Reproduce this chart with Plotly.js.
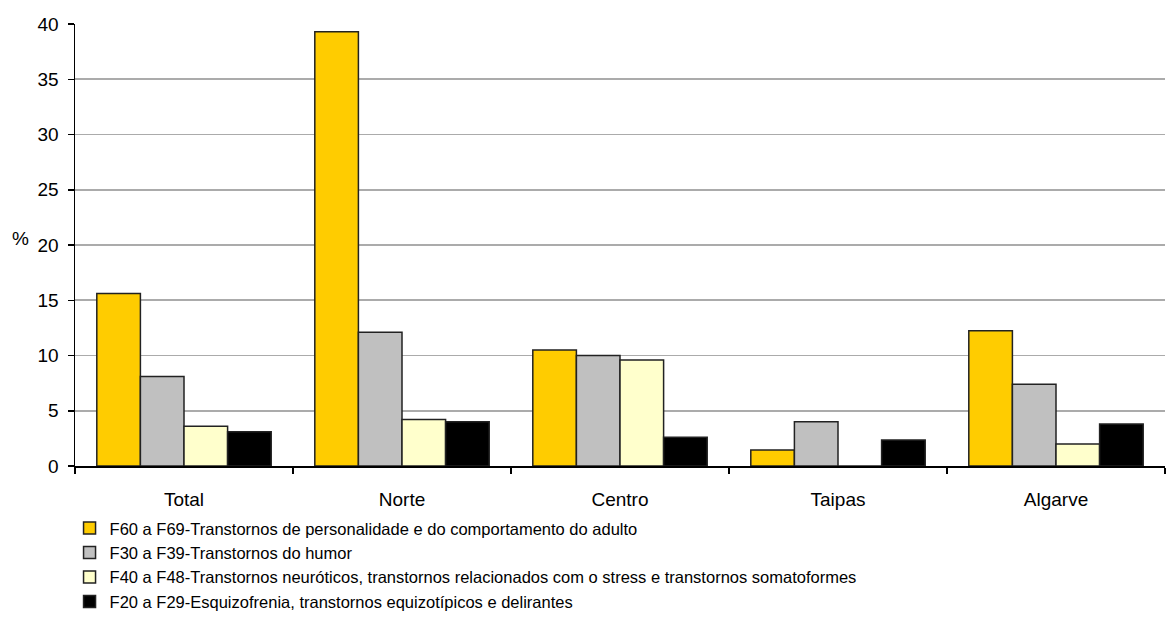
<!DOCTYPE html>
<html><head><meta charset="utf-8">
<script src="https://cdn.plot.ly/plotly-3.0.1.min.js"></script>
<style>html,body{margin:0;padding:0;background:#fff}</style>
</head><body><div id="chart" style="width:1169px;height:617px"></div>
<script>
const categories = ["Total", "Norte", "Centro", "Taipas", "Algarve"];
const seriesNames = [
  "F60 a F69-Transtornos de personalidade e do comportamento do adulto",
  "F30 a F39-Transtornos do humor",
  "F40 a F48-Transtornos neuróticos, transtornos relacionados com o stress e transtornos somatoformes",
  "F20 a F29-Esquizofrenia, transtornos equizotípicos e delirantes"
];
const f60 = [15.6, 39.3, 10.5, 1.45, 12.25];
const f30 = [8.1, 12.1, 10.0, 4.0, 7.4];
const f40 = [3.6, 4.2, 9.6, 0, 2.0];
const f20 = [3.1, 4.0, 2.6, 2.35, 3.8];
const yTicks = [0, 5, 10, 15, 20, 25, 30, 35, 40];

const colors = ["#ffcc00", "#c0c0c0", "#ffffcc", "#000000"];
const values = [f60, f30, f40, f20];
const traces = values.map((v, i) => ({
  type: "bar", x: categories, y: v, name: seriesNames[i],
  marker: {color: colors[i], line: {color: "#222", width: 1.5}},
  hoverinfo: "y"
}));

const layout = {
  width: 1169, height: 617,
  margin: {l: 75, r: 4, t: 24, b: 151},
  paper_bgcolor: "#fff", plot_bgcolor: "#fff",
  font: {family: "Liberation Sans, Arial, sans-serif", size: 19, color: "#000"},
  barmode: "group", bargap: 0.2, bargroupgap: 0,
  showlegend: true,
  legend: {orientation: "v", x: -0.005, xanchor: "left", xref: "paper",
    y: 0.172, yanchor: "top", yref: "container",
    font: {size: 16.5}, tracegroupgap: 0, itemwidth: 30, bgcolor: "rgba(0,0,0,0)"},
  xaxis: {type: "category", showline: true, linecolor: "#000", linewidth: 1.5,
    ticks: "outside", tickson: "boundaries", ticklen: 6, tickcolor: "#000", tickwidth: 1.5,
    ticklabelstandoff: 16, showgrid: false, zeroline: false, automargin: false},
  yaxis: {range: [0, 40], tickvals: yTicks, showline: true, linecolor: "#000", linewidth: 1.5,
    ticks: "outside", ticklen: 6, tickcolor: "#000", tickwidth: 1.5, ticklabelstandoff: 5,
    showgrid: true, gridcolor: "#ababab", gridwidth: 1.6, zeroline: false, automargin: false},
  annotations: [{text: "%", xref: "paper", yref: "paper", x: -0.04, y: 0.515,
    xanchor: "right", yanchor: "middle", showarrow: false, font: {size: 19}}]
};
Plotly.newPlot("chart", traces, layout, {displayModeBar: false, staticPlot: true});
</script></body></html>
